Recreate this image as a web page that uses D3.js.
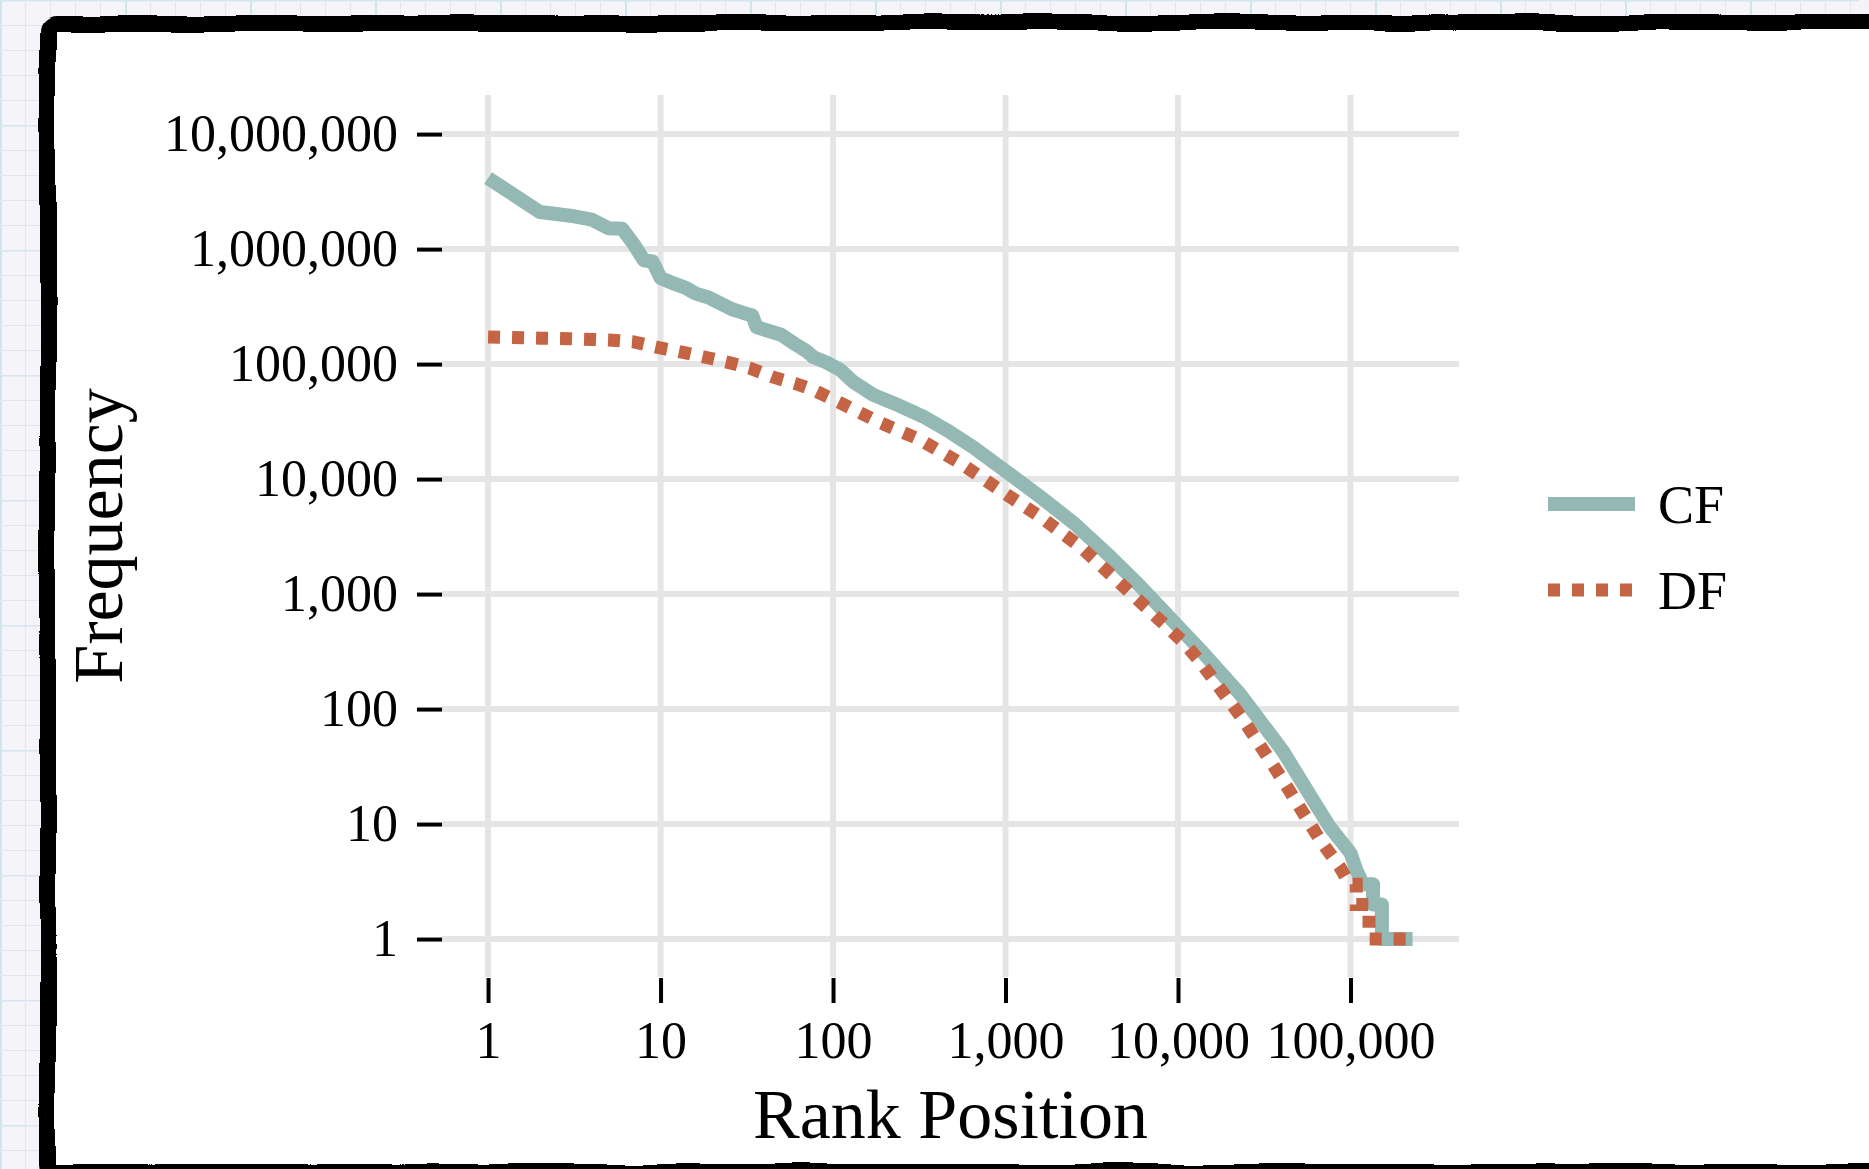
<!DOCTYPE html>
<html>
<head>
<meta charset="utf-8">
<script src="https://cdn.jsdelivr.net/npm/d3@7"></script>
<style>
  body { margin: 0; background: #f4f4f7; }
  svg { display: block; }
  text { font-family: "Liberation Serif", "DejaVu Serif", serif; fill: #000; }
</style>
</head>
<body>
<div id="chart"></div>
<script>
// rank / frequency
const cfRank = [1, 2, 3, 4, 5, 6, 7, 8, 9, 10, 12, 14, 16, 19, 22, 26, 30, 34, 36, 42, 50, 60, 70, 77, 92, 110, 131, 171, 230, 333, 450, 648, 1020, 1590, 2460, 3870, 6000, 9000, 13400, 22900, 40600, 60900, 76000, 100000, 108000, 118000, 135000, 135000, 152000, 152000, 229000];
const cfFreq = [4150000, 2100000, 1950000, 1800000, 1520000, 1500000, 1100000, 800000, 780000, 560000, 500000, 460000, 410000, 380000, 340000, 300000, 280000, 265000, 210000, 195000, 180000, 150000, 130000, 115000, 103000, 89000, 70000, 54000, 45000, 35000, 27000, 19000, 11500, 7000, 4200, 2250, 1180, 620, 330, 135, 43, 16, 9.4, 5.6, 4, 3, 3, 2, 2, 1, 1];

const dfRank = [1, 2, 3, 4, 5, 7, 10, 14, 19, 25, 33, 45, 60, 76, 110, 187, 320, 545, 930, 1590, 2700, 4600, 7600, 10700, 13400, 24000, 40600, 66500, 87000, 99000, 108000, 108000, 128000, 128000, 229000];
const dfFreq = [172000, 168000, 166000, 164000, 162000, 156000, 138000, 125000, 113000, 103000, 92000, 77000, 68000, 60000, 46000, 31000, 22000, 13800, 8000, 4700, 2600, 1250, 620, 385, 260, 80, 24, 7.3, 4.2, 3, 3, 2, 2, 1, 1];

const xTicks = [1, 10, 100, 1000, 10000, 100000];
const yTicks = [1, 10, 100, 1000, 10000, 100000, 1000000, 10000000];
const seriesNames = ["CF", "DF"];
const seriesColors = ["#94b8b4", "#c56445"];

const W = 1869, H = 1169;
const plot = { l: 442, r: 1459, t: 95, b: 977 };

const svg = d3.select("#chart").append("svg").attr("width", W).attr("height", H);
const defs = svg.append("defs");

// graph paper background
const pat = defs.append("pattern").attr("id", "paper").attr("patternUnits", "userSpaceOnUse")
  .attr("width", 125).attr("height", 125);
pat.append("rect").attr("width", 125).attr("height", 125).attr("fill", "#f5f4f8");
for (let i = 0; i < 5; i++) {
  pat.append("line").attr("x1", i * 25 + 0.5).attr("x2", i * 25 + 0.5).attr("y1", 0).attr("y2", 125)
    .attr("stroke", i === 0 ? "#cfe4ec" : "#e4e6ee").attr("stroke-width", i === 0 ? 3 : 1);
  pat.append("line").attr("y1", i * 25 + 0.5).attr("y2", i * 25 + 0.5).attr("x1", 0).attr("x2", 125)
    .attr("stroke", i === 0 ? "#d6e6ee" : "#e4e6ee").attr("stroke-width", i === 0 ? 2 : 1);
}
svg.append("rect").attr("width", W).attr("height", H).attr("fill", "url(#paper)").attr("x", -10);

// wobbly hand drawn frame
const filt = defs.append("filter").attr("id", "wobble").attr("x", "-5%").attr("y", "-5%").attr("width", "110%").attr("height", "110%");
filt.append("feTurbulence").attr("type", "fractalNoise").attr("baseFrequency", 0.012).attr("numOctaves", 2).attr("seed", 3).attr("result", "n");
filt.append("feDisplacementMap").attr("in", "SourceGraphic").attr("in2", "n").attr("scale", 7)
  .attr("xChannelSelector", "R").attr("yChannelSelector", "G");

svg.append("rect").attr("x", 48).attr("y", 23).attr("width", W + 40).attr("height", H - 20)
  .attr("rx", 8).attr("fill", "#fff").attr("stroke", "#000").attr("stroke-width", 16)
  .attr("filter", "url(#wobble)");

const x = d3.scaleLog().domain([Math.pow(10, -0.267), Math.pow(10, 5.629)]).range([plot.l, plot.r]);
const y = d3.scaleLog().domain([Math.pow(10, -0.33), Math.pow(10, 7.34)]).range([plot.b, plot.t]);

// grid
const grid = svg.append("g").attr("stroke", "#e5e5e5").attr("stroke-width", 6);
grid.selectAll(".gx").data(xTicks).enter().append("line")
  .attr("x1", d => x(d)).attr("x2", d => x(d)).attr("y1", plot.t).attr("y2", plot.b);
grid.selectAll(".gy").data(yTicks).enter().append("line")
  .attr("y1", d => y(d)).attr("y2", d => y(d)).attr("x1", plot.l).attr("x2", plot.r);

const fmt = d3.format(",");
const xAxis_g = svg.append("g").attr("transform", `translate(0, ${plot.b + 1})`)
  .call(d3.axisBottom(x).tickValues(xTicks).tickFormat(fmt).tickSize(25).tickPadding(18));
const yAxis_g = svg.append("g").attr("transform", `translate(${plot.l}, 0)`)
  .call(d3.axisLeft(y).tickValues(yTicks).tickFormat(fmt).tickSize(25).tickPadding(19));
[xAxis_g, yAxis_g].forEach(g => {
  g.select(".domain").remove();
  g.selectAll(".tick line").attr("stroke", "#000").attr("stroke-width", 4);
  g.selectAll(".tick text").attr("font-size", 52).attr("font-family", "Liberation Serif");
});

// lines
const line = d3.line().x(d => x(d[0])).y(d => y(d[1]));
const cf = cfRank.map((r, i) => [r, cfFreq[i]]);
const df = dfRank.map((r, i) => [r, dfFreq[i]]);
svg.append("path").datum(cf).attr("d", line).attr("fill", "none")
  .attr("stroke", seriesColors[0]).attr("stroke-width", 14).attr("stroke-linejoin", "round");
svg.append("path").datum(df).attr("d", line).attr("fill", "none")
  .attr("stroke", seriesColors[1]).attr("stroke-width", 13).attr("stroke-dasharray", "12,12");

// axis titles
svg.append("text").attr("x", (plot.l + plot.r) / 2).attr("y", 1138).attr("text-anchor", "middle")
  .attr("font-size", 70).text("Rank Position");
svg.append("text").attr("transform", `translate(122, ${(plot.t + plot.b) / 2}) rotate(-90)`)
  .attr("text-anchor", "middle").attr("font-size", 70).text("Frequency");

// legend
const legend = svg.append("g").selectAll("g").data(seriesNames).enter().append("g")
  .attr("transform", (d, i) => `translate(1548, ${504 + i * 86})`);
legend.append("line").attr("x1", 0).attr("x2", 87).attr("y1", 0).attr("y2", 0)
  .attr("stroke", (d, i) => seriesColors[i]).attr("stroke-width", (d, i) => i ? 13 : 14)
  .attr("stroke-dasharray", (d, i) => i ? "12,12" : null);
legend.append("text").attr("x", 110).attr("y", 19).attr("font-size", 54).text(d => d);
</script>
</body>
</html>
